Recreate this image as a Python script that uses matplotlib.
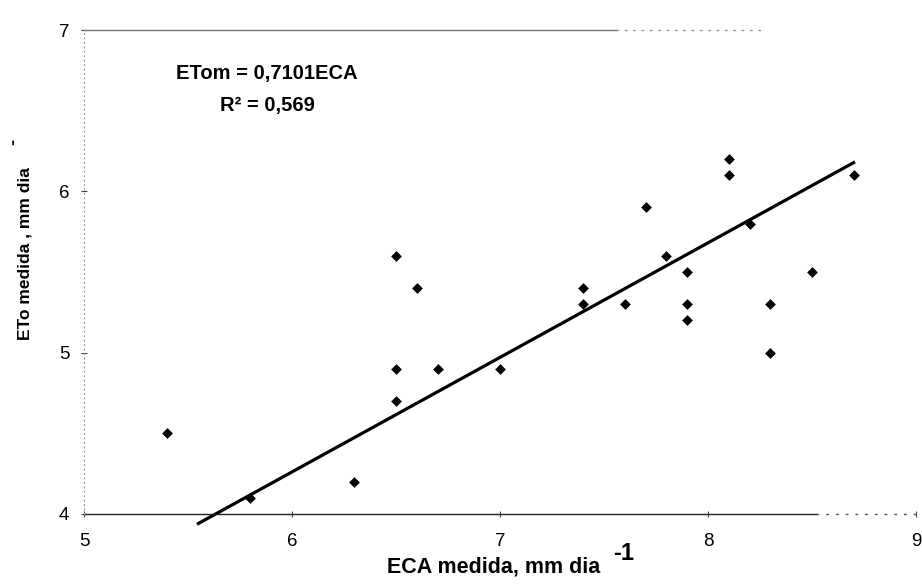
import matplotlib

matplotlib.use("Agg")
import matplotlib.pyplot as plt
import numpy as np

# measured ECA (x) vs measured ETo (y), mm/day
eca = [5.4, 5.8, 6.3, 6.5, 6.5, 6.5, 6.6, 6.7, 7.0, 7.4, 7.4, 7.6,
       7.7, 7.8, 7.9, 7.9, 7.9, 8.1, 8.1, 8.2, 8.3, 8.3, 8.5, 8.7]
eto = [4.5, 4.1, 4.2, 4.7, 4.9, 5.6, 5.4, 4.9, 4.9, 5.4, 5.3, 5.3,
       5.9, 5.6, 5.5, 5.3, 5.2, 6.2, 6.1, 5.8, 5.3, 5.0, 5.5, 6.1]
slope = 0.7101
r2 = 0.569
fit_range = [5.55, 8.7]
x_ticks = [5, 6, 7, 8, 9]
y_ticks = [4, 5, 6, 7]

plt.rcParams["font.family"] = ["Liberation Sans", "DejaVu Sans"]

fig = plt.figure(figsize=(9.22, 5.84), dpi=100)
ax = fig.add_axes([0.0911, 0.1199, 0.9024, 0.8287])

ax.scatter(eca, eto, marker="D", s=30, color="black", zorder=3, linewidths=0)
xf = np.array(fit_range)
ax.plot(xf, slope * xf, color="black", lw=2.3, clip_on=False, zorder=2)

ax.set_xlim(5, 9)
ax.set_ylim(4, 7)
ax.set_xticks(x_ticks)
ax.set_yticks(y_ticks)
ax.tick_params(axis="both", labelsize=13.5, direction="inout", length=5,
               width=0.8, colors="#444444", labelcolor="black")
ax.tick_params(axis="x", pad=11)
ax.tick_params(axis="y", pad=8)

# scanned-looking frame: partial top rule, faint dotted left, mostly solid bottom
for side in ["right", "top", "bottom"]:
    ax.spines[side].set_visible(False)
ax.spines["left"].set_color("#999999")
ax.spines["left"].set_linewidth(0.8)
ax.spines["left"].set_linestyle((0, (1, 3)))
ax.axhline(7, 0, 0.64, color="#777777", lw=1.0, clip_on=False)
ax.axhline(7, 0.64, 0.82, color="#999999", lw=1.0, ls=(0, (2, 4)), clip_on=False)
ax.axhline(4, 0, 0.88, color="#222222", lw=1.0, clip_on=False)
ax.axhline(4, 0.88, 1.0, color="#555555", lw=1.0, ls=(0, (2, 5)), clip_on=False)

ax.text(5.88, 6.73, f"ETom = {slope:.4f}ECA".replace(".", ","),
        ha="center", va="center", fontsize=14.5, fontweight="bold")
ax.text(5.88, 6.53, f"R² = {r2:.3f}".replace(".", ","),
        ha="center", va="center", fontsize=14.5, fontweight="bold")

fig.text(494 / 922, 1 - 567 / 584, "ECA medida, mm dia", ha="center",
         va="center", fontsize=15.5, fontweight="bold")
fig.text(613 / 922, 1 - 553 / 584, "-1", ha="left", va="center",
         fontsize=17, fontweight="bold")
fig.text(25 / 922, 1 - 254 / 584, "ETo medida , mm dia", ha="center",
         va="center", rotation=90, fontsize=12.5, fontweight="bold")
fig.text(14 / 922, 1 - 142 / 584, "-", ha="center", va="center",
         rotation=90, fontsize=13, fontweight="bold")

fig.savefig("out.png", dpi=100)
